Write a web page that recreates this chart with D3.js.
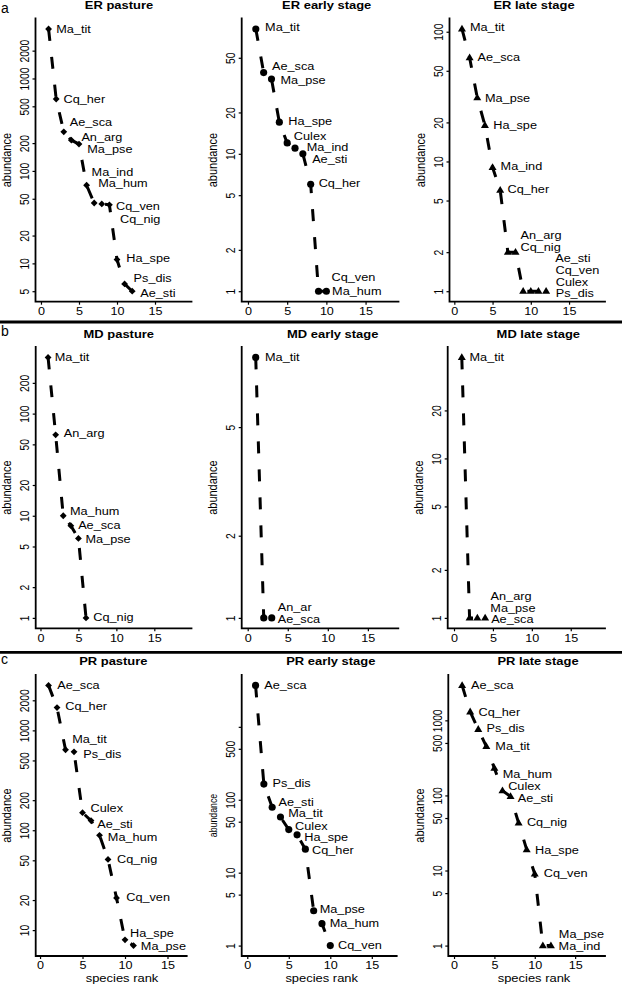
<!DOCTYPE html>
<html><head><meta charset="utf-8">
<script src="https://cdn.jsdelivr.net/npm/d3@7"></script>
<style>
body{margin:0;background:#fff}
svg{display:block}
text{font-family:"Liberation Sans",Arial,Helvetica,sans-serif;fill:#000}
</style>
</head><body>
<svg id="chart" width="622" height="987"></svg>
<script>
// ---------------- data ----------------
const titles = ["ER pasture","ER early stage","ER late stage",
                "MD pasture","MD early stage","MD late stage",
                "PR pasture","PR early stage","PR late stage"];
const rowLetters = ["a","b","c"];
const xTicks = [0,5,10,15];
const xLabel = "species rank";
const yLabel = "abundance";

const erPastureSpecies = ["Ma_tit","Cq_her","Ae_sca","An_arg","Ma_pse","Ma_ind","Ma_hum","Cq_ven","Cq_nig","Ha_spe","Ps_dis","Ae_sti"];
const erPastureAbund   = [3430,600,265,215,195,70,45,44,43,11,6,5];
const erPastureTicks   = [5,10,20,50,100,200,500,1000,2000];

const erEarlySpecies = ["Ma_tit","Ae_sca","Ma_pse","Ha_spe","Culex","Ma_ind","Ae_sti","Cq_her","Cq_ven","Ma_hum"];
const erEarlyAbund   = [81,39,35,17,12,11,10,6,1,1];
const erEarlyTicks   = [1,2,5,10,20,50];

const erLateSpecies = ["Ma_tit","Ae_sca","Ma_pse","Ha_spe","Ma_ind","Cq_her","An_arg","Cq_nig","Ae_sti","Cq_ven","Culex","Ps_dis"];
const erLateAbund   = [105,63,31,19,9,6,2,2,1,1,1,1];
const erLateTicks   = [1,2,5,10,20,50,100];

const mdPastureSpecies = ["Ma_tit","An_arg","Ma_hum","Ae_sca","Ma_pse","Cq_nig"];
const mdPastureAbund   = [355,62,10,8,6,1];
const mdPastureTicks   = [1,2,5,10,20,50,100,200];

const mdEarlySpecies = ["Ma_tit","An_ar","Ae_sca"];
const mdEarlyAbund   = [9,1,1];
const mdEarlyTicks   = [1,2,5];

const mdLateSpecies = ["Ma_tit","An_arg","Ma_pse","Ae_sca"];
const mdLateAbund   = [43,1,1,1];
const mdLateTicks   = [1,2,5,10,20];

const prPastureSpecies = ["Ae_sca","Cq_her","Ma_tit","Ps_dis","Culex","Ae_sti","Ma_hum","Cq_nig","Cq_ven","Ha_spe","Ma_pse"];
const prPastureAbund   = [2820,1690,640,610,150,125,89,51,21,8,7];
const prPastureTicks   = [10,20,50,100,200,500,1000,2000];

const prEarlySpecies = ["Ae_sca","Ps_dis","Ae_sti","Ma_tit","Culex","Ha_spe","Cq_her","Ma_pse","Ma_hum","Cq_ven"];
const prEarlyAbund   = [3700,164,79,58,39,33,21,3,2,1];
const prEarlyTicks   = [1,5,10,50,100,500,1000];
const prEarlyTickLabels = ["1","5","10","50","100","500",""];

const prLateSpecies = ["Ae_sca","Cq_her","Ps_dis","Ma_tit","Ma_hum","Culex","Ae_sti","Cq_nig","Ha_spe","Cq_ven","Ma_pse","Ma_ind"];
const prLateAbund   = [2920,1300,760,450,230,116,97,43,19,9,1,1];
const prLateTicks   = [1,5,10,50,100,500,1000];

const markerShapes = ["diamond","circle","triangle"]; // pasture, early, late

// ---------------- layout (positions only) ----------------
const rows = [
  {top:18.5, bottom:301.7, titleY:8.5, letterY:12.5},
  {top:347,  bottom:628.3, titleY:338, letterY:335.5},
  {top:675,  bottom:956,   titleY:665, letterY:664}
];
const cols = [
  {left:35.5, right:191.5, xDomain:[-0.72,19.8],  titleX:119,   xlabX:null},
  {left:241.7,right:398.5, xDomain:[-0.8,19.2],   titleX:326.7, xlabX:null},
  {left:449.5,right:605,   xDomain:[-0.63,19.7],  titleX:534,   xlabX:null},
  {left:35.7, right:191.5, xDomain:[-0.63,19.9],  titleX:118.8, xlabX:null},
  {left:241.7,right:398.3, xDomain:[-0.75,18.8],  titleX:332.7, xlabX:null},
  {left:447.7,right:605,   xDomain:[-0.81,19.4],  titleX:538.3, xlabX:null},
  {left:35.7, right:186.7, xDomain:[-0.51,17.26], titleX:113.3, xlabX:122},
  {left:241.7,right:396.7, xDomain:[-0.67,18.0],  titleX:330.8, xlabX:321.7},
  {left:448.3,right:605,   xDomain:[-0.71,18.7],  titleX:538,   xlabX:534}
];
// label nudges in px relative to the point [dx, dy]
const labelNudges = [
  [[7.7,0],[7.3,0],[6,-9.5],[10,-3.3],[8.3,5.5],[5,-13],[4,-19.6],[14.3,2.7],[10.7,14.8],[9.3,-1],[9,-5.5],[8,1.5]],
  [[9.3,-1.7],[8.3,-6],[9,0.7],[9,-1.3],[6.7,-6.5],[11.7,-1],[9.3,5],[8,-0.7],[13,-14],[5.7,0.3]],
  [[8,-2.3],[8,-1],[7.7,0],[8.3,0],[8,-1.7],[7.3,-1],[12.7,-16.5],[5,-5],[32,-33.5],[24.7,-21.5],[17.3,-9.5],[9.7,1.5]],
  [[6.7,0],[8,-1.3],[6.7,-4.7],[7.3,0],[7,0.5],[7.3,-1]],
  [[9.3,0],[14,-11],[6,0.8]],
  [[7.7,-0.7],[21,-21.5],[13,-10],[6,1.2]],
  [[8.7,0],[8.3,-1.3],[6.7,-11],[9.3,2.5],[8,-4.5],[6.3,3.8],[8.3,1.8],[9,-0.7],[9.7,-1],[5,-6.7],[7.3,0.7]],
  [[8.7,-0.7],[8.7,-1],[6.3,-5.5],[7.7,-3.5],[6.3,-3.8],[7.3,2.8],[6.7,0.9],[6,-1.7],[7.7,0],[7.7,0]],
  [[9,-0.7],[8.3,0],[8.3,-0.7],[9,-0.7],[8.3,5.7],[5.7,-4.5],[7.3,2],[8.3,-1],[8.3,0.7],[9,-0.7],[16,-11],[7.7,0.5]]
];
const separatorsY = [322, 652.3];
const SX = 1.2; // horizontal stretch of the original raster

// ---------------- assemble ----------------
const panels = [
  {species:erPastureSpecies, abund:erPastureAbund, ticks:erPastureTicks},
  {species:erEarlySpecies,   abund:erEarlyAbund,   ticks:erEarlyTicks},
  {species:erLateSpecies,    abund:erLateAbund,    ticks:erLateTicks},
  {species:mdPastureSpecies, abund:mdPastureAbund, ticks:mdPastureTicks},
  {species:mdEarlySpecies,   abund:mdEarlyAbund,   ticks:mdEarlyTicks},
  {species:mdLateSpecies,    abund:mdLateAbund,    ticks:mdLateTicks},
  {species:prPastureSpecies, abund:prPastureAbund, ticks:prPastureTicks},
  {species:prEarlySpecies,   abund:prEarlyAbund,   ticks:prEarlyTicks, tickLabels:prEarlyTickLabels},
  {species:prLateSpecies,    abund:prLateAbund,    ticks:prLateTicks}
];

const svg = d3.select("#chart");

function markerPath(shape){
  if(shape==="circle") return d3.symbol(d3.symbolCircle, 40)();
  if(shape==="triangle") return "M0,-4.2L4,2.6L-4,2.6Z";
  return "M0,-3.4L3.4,0L0,3.4L-3.4,0Z";
}

panels.forEach((p,i)=>{
  const row = Math.floor(i/3), col = i%3;
  const rb = rows[row], cb = cols[i];
  const g = svg.append("g");
  const x = d3.scaleLinear().domain(cb.xDomain).range([cb.left, cb.right]);
  const ext = d3.extent(p.abund).map(Math.log10);
  const pad = (ext[1]-ext[0])*0.04;
  const y = d3.scaleLog().domain([10**(ext[0]-pad), 10**(ext[1]+pad)]).range([rb.bottom, rb.top]);

  // L-shaped frame
  g.append("path")
    .attr("d", `M${cb.left},${rb.top}V${rb.bottom}H${cb.right}`)
    .attr("fill","none").attr("stroke","#000").attr("stroke-width",1.8)
    .attr("stroke-linecap","square");

  // y axis
  const ya = g.append("g").attr("transform",`translate(${cb.left},0)`)
    .call(d3.axisLeft(y).tickValues(p.ticks).tickSize(3).tickSizeOuter(0)
      .tickFormat((d,j)=> p.tickLabels ? p.tickLabels[j] : String(d)));
  ya.select(".domain").remove();
  ya.selectAll(".tick line").attr("stroke","#000").attr("stroke-width",1.2);
  ya.selectAll(".tick text")
    .attr("x",null).attr("dy",null)
    .attr("transform",`translate(-6.4,0) scale(${SX},1) rotate(-90)`)
    .attr("text-anchor","middle").attr("font-size",10.3).attr("font-family",null);

  // x axis
  const xa = g.append("g").attr("transform",`translate(0,${rb.bottom})`)
    .call(d3.axisBottom(x).tickValues(xTicks).tickSize(3).tickSizeOuter(0));
  xa.select(".domain").remove();
  xa.selectAll(".tick line").attr("stroke","#000").attr("stroke-width",1.2);
  xa.selectAll(".tick text")
    .attr("y",null).attr("dy",null)
    .attr("transform",`translate(0,13.3) scale(${SX},1)`)
    .attr("text-anchor","middle").attr("font-size",10.5).attr("font-family",null);

  // y label
  const ylx = cb.left - 24.5, yly = (rb.top+rb.bottom)/2;
  g.append("text")
    .attr("transform",`translate(${ylx},${yly}) scale(${SX},1) rotate(-90)`)
    .attr("text-anchor","middle")
    .attr("font-size", i===7 ? 8.8 : 11)
    .text(yLabel);

  // title
  g.append("text")
    .attr("transform",`translate(${cb.titleX},${rb.titleY}) scale(${SX},1)`)
    .attr("text-anchor","middle").attr("font-weight","bold").attr("font-size",10.8)
    .text(titles[i]);

  // x label
  if(cb.xlabX!==null){
    g.append("text")
      .attr("transform",`translate(${cb.xlabX},${982}) scale(${SX},1)`)
      .attr("text-anchor","middle").attr("font-size",10.8)
      .text(xLabel);
  }

  const pts = p.abund.map((v,k)=>({rank:k+1, v, name:p.species[k], nudge:labelNudges[i][k]}));

  // dashed line
  g.append("path")
    .attr("d", d3.line().x(d=>x(d.rank)).y(d=>y(d.v))(pts))
    .attr("fill","none").attr("stroke","#000").attr("stroke-width",3)
    .attr("stroke-dasharray","12,16").attr("stroke-linecap","butt");

  // markers
  g.selectAll("path.pt").data(pts).join("path").attr("class","pt")
    .attr("transform",d=>`translate(${x(d.rank)},${y(d.v)})`)
    .attr("d", markerPath(markerShapes[col])).attr("fill","#000");

  // labels
  g.selectAll("text.lab").data(pts).join("text").attr("class","lab")
    .attr("transform",d=>`translate(${x(d.rank)+d.nudge[0]},${y(d.v)+d.nudge[1]}) scale(${SX},1)`)
    .attr("dy","0.36em").attr("font-size",10.6)
    .text(d=>d.name);
});

// row letters
rowLetters.forEach((l,r)=>{
  svg.append("text").attr("x",1).attr("y",rows[r].letterY)
    .attr("font-size",14).text(l);
});

// separators
svg.selectAll("line.sep").data(separatorsY).join("line").attr("class","sep")
  .attr("x1",0).attr("x2",622).attr("y1",d=>d).attr("y2",d=>d)
  .attr("stroke","#000").attr("stroke-width",2.8);
</script>
</body></html>
